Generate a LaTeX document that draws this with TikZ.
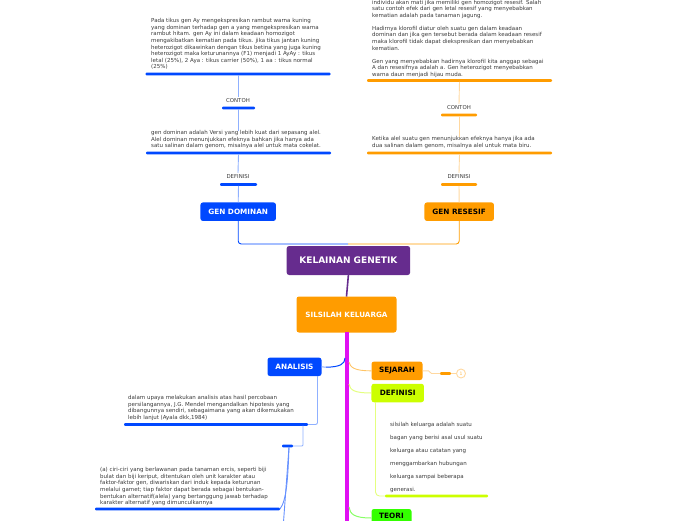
\documentclass[tikz,border=0pt]{standalone}
\usepackage{fontspec}
\setmainfont{DejaVu Sans}
\definecolor{cblue}{HTML}{0048FF}
\definecolor{lblue}{HTML}{8FB0FF}
\definecolor{corange}{HTML}{FF9C00}
\definecolor{lorange}{HTML}{FFD8A0}
\definecolor{cpurple}{HTML}{662C8E}
\definecolor{cmag}{HTML}{E010F2}
\definecolor{clime}{HTML}{CCFF00}
\definecolor{llime}{HTML}{E4FF80}
\definecolor{cgreen}{HTML}{33FF00}
\definecolor{lgreen}{HTML}{88FF66}
\definecolor{ctext}{HTML}{3A3A3A}
\tikzset{
  body/.style={anchor=north west,inner sep=0pt,align=left,text=ctext,font=\fontsize{5.5}{6.55}\selectfont},
  wide/.style={anchor=north west,inner sep=0pt,align=left,text=ctext,font=\fontsize{5.5}{13}\selectfont},
  tag/.style={inner sep=2pt,text=ctext,font=\fontsize{5.4}{6}\selectfont},
  bar/.style={draw=none,fill=#1,rounded corners=1pt,minimum height=2.6pt,inner sep=0pt,outer sep=0pt},
  topic/.style={rounded corners=2.5pt,inner sep=0pt,outer sep=0pt,font=\fontsize{7.3}{8}\selectfont\bfseries,minimum height=18.5pt},
  thin/.style={line width=0.9pt},
}
\begin{document}
\begin{tikzpicture}[x=1pt,y=-1pt]
\useasboundingbox (0,0) rectangle (696,520);
% text blocks
\node[body] (t1) at (151,18.5) {Pada tikus gen Ay mengekspresikan rambut warna kuning\\yang dominan terhadap gen a yang mengekspresikan warna\\rambut hitam. gen Ay ini dalam keadaan homozigot\\mengakibatkan kematian pada tikus. jika tikus jantan kuning\\heterozigot dikawinkan dengan tikus betina yang juga kuning\\heterozigot maka keturunannya (F1) menjadi 1 AyAy : tikus\\letal (25\%), 2 Aya : tikus carrier (50\%), 1 aa : tikus normal\\(25\%)};
\node[body] (t2) at (151,130.5) {gen dominan adalah Versi yang lebih kuat dari sepasang alel.\\Alel dominan menunjukkan efeknya bahkan jika hanya ada\\satu salinan dalam genom, misalnya alel untuk mata cokelat.};
\node[body] (t3) at (372,-0.2) {individu akan mati jika memiliki gen homozigot resesif. Salah\\satu contoh efek dari gen letal resesif yang menyebabkan\\kematian adalah pada tanaman jagung.\\[6.55pt]Hadirnya klorofil diatur oleh suatu gen dalam keadaan\\dominan dan jika gen tersebut berada dalam keadaan resesif\\maka klorofil tidak dapat diekspresikan dan menyebabkan\\kematian.\\[6.55pt]Gen yang menyebabkan hadirnya klorofil kita anggap sebagai\\A dan resesifnya adalah a. Gen heterozigot menyebabkan\\warna daun menjadi hijau muda.};
\node[body] (t4) at (372,136.5) {Ketika alel suatu gen menunjukkan efeknya hanya jika ada\\dua salinan dalam genom, misalnya alel untuk mata biru.};
\node[body] (t5) at (128,395.5) {dalam upaya melakukan analisis atas hasil percobaan\\persilangannya, J.G. Mendel mengandalkan hipotesis yang\\dibangunnya sendiri, sebagaimana yang akan dikemukakan\\lebih lanjut (Ayala dkk,1984)};
\node[body] (t6) at (100,467.5) {(a) ciri-ciri yang berlawanan pada tanaman ercis, seperti biji\\bulat dan biji keriput, ditentukan oleh unit karakter atau\\faktor-faktor gen, diwariskan dari induk kepada keturunan\\melalui gamet; tiap faktor dapat berada sebagai bentukan-\\bentukan alternatif(alela) yang bertanggung jawab terhadap\\karakter alternatif yang dimunculkannya};
\node[wide] (t7) at (390,422) {silsilah keluarga adalah suatu\\bagan yang berisi asal usul suatu\\keluarga atau catatan yang\\menggambarkan hubungan\\keluarga sampai beberapa\\generasi.};
% bars
\node[bar=cblue,minimum width=185pt] (b1) at (238,74) {};
\node[bar=cblue,minimum width=33pt] (b2) at (238.5,108) {};
\node[bar=cblue,minimum width=185pt] (b3) at (238.5,153) {};
\node[bar=cblue,minimum width=37pt] (b4) at (238.5,184.5) {};
\node[bar=corange,minimum width=185pt] (b5) at (459.5,80.5) {};
\node[bar=corange,minimum width=36pt] (b6) at (459,115) {};
\node[bar=corange,minimum width=185pt] (b7) at (459.5,153) {};
\node[bar=corange,minimum width=36pt] (b8) at (459,184.5) {};
\node[bar=cblue,minimum width=184pt] (b9) at (216,424.5) {};
\node[bar=cblue,minimum width=11pt] (b10) at (287.5,446) {};
\node[bar=cblue,minimum width=185pt] (b11) at (187.5,509) {};
\node[bar=corange,minimum width=11pt] (b12) at (445.5,373.5) {};
\node[bar=clime,minimum width=103pt] (b13) at (436.5,496) {};
% tags
\node[tag] (c1) at (238,101) {CONTOH};
\node[tag] (c2) at (238,177) {DEFINISI};
\node[tag] (c3) at (459,108) {CONTOH};
\node[tag] (c4) at (459,177) {DEFINISI};
% main topics
\node[topic,fill=cblue,text=white,minimum width=75.5pt] (gd) at (238.2,211.7) {GEN DOMINAN};
\node[topic,fill=corange,text=black,minimum width=69.5pt] (gr) at (459.2,211.7) {GEN RESESIF};
\node[topic,fill=cpurple,text=white,minimum width=123.5pt,minimum height=29pt,font=\fontsize{9}{10}\selectfont\bfseries] (kg) at (348.4,260.5) {KELAINAN GENETIK};
\node[topic,fill=corange,text=white,minimum width=100pt,minimum height=36pt,font=\fontsize{7.2}{8}\selectfont\bfseries] (sk) at (346.5,314.5) {SILSILAH KELUARGA};
\node[topic,fill=cblue,text=white,minimum width=54pt] (an) at (294.5,366.8) {ANALISIS};
\node[topic,fill=corange,text=black,minimum width=51pt] (sj) at (397,370.8) {SEJARAH};
\node[topic,fill=clime,text=black,minimum width=52.5pt] (df) at (397.7,393) {DEFINISI};
\node[topic,fill=cgreen,text=black,minimum width=40pt,minimum height=0pt,anchor=north,inner ysep=3.5pt,text height=5.5pt,text depth=10pt] (te) at (391.5,509) {TEORI};
\node[circle,draw=lorange,line width=0.9pt,minimum size=9pt,inner sep=0pt,text=corange!70,font=\fontsize{4.5}{5}\selectfont] (n1) at (461,373.5) {1};
% anchors for free ends
\coordinate (hub) at (348,244);
\coordinate (tb) at (347,332);
\coordinate (te0) at (347,522);
\coordinate (jan) at (345,358);
\coordinate (jsj) at (349,362);
\coordinate (jdf) at (349,384);
\coordinate (jte) at (349,507);
\coordinate (tew) at (371.5,518);
\coordinate (off) at (283.5,522);
% connectors
\draw[lblue,thin] (b1.south) -- (c1.north);
\draw[lblue,thin] (b2.south) -- (b2.south |- t2.north);
\draw[lblue,thin] (b3.south) -- (c2.north);
\draw[lblue,thin] (b4.south) -- (gd.north);
\draw[lorange,thin] (b5.south) -- (c3.north);
\draw[lorange,thin] (b6.south) -- (b6.south |- t4.north);
\draw[lorange,thin] (b7.south) -- (c4.north);
\draw[lorange,thin] (b8.south) -- (gr.north);
\draw[cblue,thin,rounded corners=3pt] (gd.south) |- (hub);
\draw[corange,thin,rounded corners=3pt] (gr.south) |- (hub);
\draw[cpurple,line width=1.6pt] (kg.south) -- (sk.north);
\draw[cmag,line width=4.5pt] (tb) -- (te0);
\draw[cblue,line width=1pt] (jan) .. controls (345,364) and (340,367) .. (326,367.2);
\draw[lblue,line width=1pt] (326,367.2) -- (an.east);
\draw[corange!60,line width=0.9pt] (jsj) .. controls (350,367) and (354,371) .. (sj.west);
\draw[llime,line width=1pt] (jdf) .. controls (350,390) and (354,393) .. (df.west);
\draw[lgreen,line width=1pt] (jte) .. controls (350,514) and (354,518) .. (tew);
\draw[lorange,thin] (sj.east) -- ++(6,0) -- ++(3,2.7) -- (b12.west);
\draw[lorange,thin] (b12.east) -- (n1.west);
\draw[llime,thin,rounded corners=4pt] (375.5,402) |- (b13.west);
\draw[lblue,thin,rounded corners=2pt] (317.5,376) |- (b9.east);
\draw[lblue,thin,rounded corners=1pt] (303,425.5) |- (b10.east);
\draw[cblue!60,thin] (289,447) .. controls (288,475) and (287,500) .. (b11.east);
\draw[cblue!60,thin] (289,447) -- (off);
\end{tikzpicture}
\end{document}
